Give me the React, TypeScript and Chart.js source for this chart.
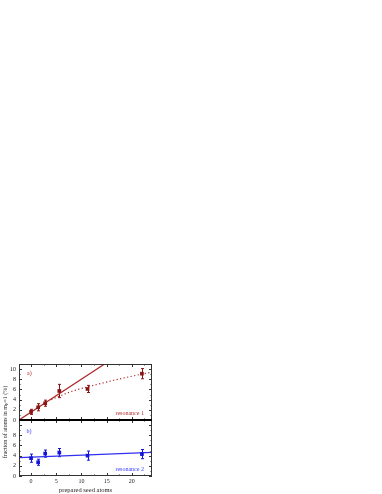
import React, { useEffect, useRef } from 'react';
import { Chart, registerables } from 'chart.js';

Chart.register(...registerables);

// ---- data ----
const seedAtoms = [0, 1.4, 2.8, 5.6, 11.2, 22];
const res1Values = [1.6, 2.5, 3.3, 5.7, 6.1, 9.1];
const res1Errors = [0.5, 0.7, 0.6, 1.3, 0.7, 1.0];
const res2Values = [3.5, 2.7, 4.4, 4.6, 4.0, 4.3];
const res2Errors = [0.8, 0.6, 0.7, 0.8, 0.9, 0.9];
const fit1LinearX = [-2.4, 14.6];
const fit1LinearY = [0, 11];
const fit1CurveX = [4, 8, 12, 16, 20, 24];
const fit1CurveY = [4.0, 5.6, 6.7, 7.7, 8.6, 9.4];
const fit2LinearX = [-2.4, 24];
const fit2LinearY = [3.6, 4.65];
const xTickLabels = [0, 5, 10, 15, 20];
const yTopTickLabels = [0, 2, 4, 6, 8, 10];
const yBottomTickLabels = [0, 2, 4, 6, 8];

const RED_PT = '#8a1414';
const RED_LN = '#ad2b2b';
const BLUE_PT = '#1414d8';
const BLUE_LN = '#2f2ff2';
const FONT = 'Liberation Serif';

const zip = (xs: number[], ys: number[]) => xs.map((x, i) => ({ x, y: ys[i] }));

const errorBarPlugin = {
  id: 'errorBars',
  beforeDatasetsDraw(chart: any) {
    const { ctx, scales } = chart;
    const groups = [
      { vals: res1Values, errs: res1Errors, y: scales.yTop, color: RED_PT },
      { vals: res2Values, errs: res2Errors, y: scales.yBot, color: BLUE_PT },
    ];
    ctx.save();
    ctx.lineWidth = 1;
    for (const g of groups) {
      ctx.strokeStyle = g.color;
      seedAtoms.forEach((sx, i) => {
        const px = Math.round(scales.x.getPixelForValue(sx)) + 0.5;
        const y1 = g.y.getPixelForValue(g.vals[i] - g.errs[i]);
        const y2 = g.y.getPixelForValue(g.vals[i] + g.errs[i]);
        ctx.beginPath();
        ctx.moveTo(px, y1);
        ctx.lineTo(px, y2);
        ctx.moveTo(px - 1.5, y1);
        ctx.lineTo(px + 1.5, y1);
        ctx.moveTo(px - 1.5, y2);
        ctx.lineTo(px + 1.5, y2);
        ctx.stroke();
      });
    }
    ctx.restore();
  },
};

const framePlugin = {
  id: 'frame',
  afterDraw(chart: any) {
    const { ctx, chartArea: a, scales } = chart;
    const x = scales.x;
    const yT = scales.yTop;
    const yB = scales.yBot;
    const sepY = Math.round(yB.getPixelForValue(11));
    ctx.save();
    ctx.strokeStyle = '#333';
    ctx.lineWidth = 1;
    ctx.strokeRect(a.left + 0.5, a.top + 0.5, a.width - 1, a.height - 1);
    // x ticks
    ctx.beginPath();
    for (const t of x.ticks) {
      const px = Math.round(x.getPixelForValue(t.value)) + 0.5;
      if (px < a.left + 1 || px > a.right - 1) continue;
      const len = t.value % 5 === 0 ? 3 : 1.5;
      ctx.moveTo(px, a.top);
      ctx.lineTo(px, a.top + len);
      ctx.moveTo(px, sepY - len);
      ctx.lineTo(px, sepY + len);
      ctx.moveTo(px, a.bottom);
      ctx.lineTo(px, a.bottom - len);
    }
    // y ticks
    for (const s of [yT, yB]) {
      for (const t of s.ticks) {
        const py = Math.round(s.getPixelForValue(t.value)) + 0.5;
        const len = t.value % 2 === 0 ? 3 : 1.5;
        ctx.moveTo(a.left, py);
        ctx.lineTo(a.left + len, py);
        ctx.moveTo(a.right, py);
        ctx.lineTo(a.right - len, py);
      }
    }
    ctx.stroke();
    // separator
    ctx.strokeStyle = '#000';
    ctx.lineWidth = 2;
    ctx.beginPath();
    ctx.moveTo(a.left, sepY);
    ctx.lineTo(a.right, sepY);
    ctx.stroke();

    // panel annotations
    ctx.textBaseline = 'middle';
    ctx.font = `6px "${FONT}"`;
    ctx.fillStyle = '#b03030';
    ctx.textAlign = 'left';
    ctx.fillText('a)', x.getPixelForValue(-0.8), yT.getPixelForValue(9.2));
    ctx.textAlign = 'right';
    ctx.fillText('resonance 1', x.getPixelForValue(22.4), yT.getPixelForValue(1.2));
    ctx.fillStyle = '#3a3aff';
    ctx.textAlign = 'left';
    ctx.fillText('b)', x.getPixelForValue(-0.9), yB.getPixelForValue(8.8));
    ctx.textAlign = 'right';
    ctx.fillText('resonance 2', x.getPixelForValue(22.4), yB.getPixelForValue(1.2));

    // y title with subscript
    const cx = 5;
    const cy = (a.top + a.bottom) / 2 + 2;
    ctx.translate(cx, cy);
    ctx.rotate(-Math.PI / 2);
    ctx.fillStyle = '#222';
    ctx.textAlign = 'left';
    const main = `6px "${FONT}"`;
    const sub = `4.5px "${FONT}"`;
    const p1 = 'fraction of atoms in m';
    const p2 = 'F';
    const p3 = '=1 (%)';
    ctx.font = main;
    const w1 = ctx.measureText(p1).width;
    const w3 = ctx.measureText(p3).width;
    ctx.font = sub;
    const w2 = ctx.measureText(p2).width;
    let sx = -(w1 + w2 + w3) / 2;
    ctx.font = main;
    ctx.fillText(p1, sx, 0);
    sx += w1;
    ctx.font = sub;
    ctx.fillText(p2, sx, 1.5);
    sx += w2;
    ctx.font = main;
    ctx.fillText(p3, sx, 0);
    ctx.restore();
  },
};

export default function App() {
  const ref = useRef<HTMLCanvasElement>(null);
  useEffect(() => {
    if (!ref.current) return;
    const tickFont = { family: FONT, size: 6 };
    const chart = new Chart(ref.current, {
      type: 'scatter',
      data: {
        datasets: [
          {
            label: 'resonance 1',
            data: zip(seedAtoms, res1Values),
            xAxisID: 'x',
            yAxisID: 'yTop',
            backgroundColor: RED_PT,
            borderColor: RED_PT,
            pointStyle: 'rect',
            pointRadius: 2.6,
            borderWidth: 0,
          },
          {
            label: 'linear fit 1',
            data: zip(fit1LinearX, fit1LinearY),
            xAxisID: 'x',
            yAxisID: 'yTop',
            showLine: true,
            pointRadius: 0,
            borderColor: RED_LN,
            borderWidth: 1.3,
          },
          {
            label: 'saturation fit 1',
            data: zip(fit1CurveX, fit1CurveY),
            xAxisID: 'x',
            yAxisID: 'yTop',
            showLine: true,
            pointRadius: 0,
            borderColor: RED_LN,
            borderWidth: 1.2,
            borderDash: [1.2, 2.4],
            cubicInterpolationMode: 'monotone',
          },
          {
            label: 'resonance 2',
            data: zip(seedAtoms, res2Values),
            xAxisID: 'x',
            yAxisID: 'yBot',
            backgroundColor: BLUE_PT,
            borderColor: BLUE_PT,
            pointStyle: 'rect',
            pointRadius: 2.6,
            borderWidth: 0,
          },
          {
            label: 'linear fit 2',
            data: zip(fit2LinearX, fit2LinearY),
            xAxisID: 'x',
            yAxisID: 'yBot',
            showLine: true,
            pointRadius: 0,
            borderColor: BLUE_LN,
            borderWidth: 1.3,
          },
        ],
      },
      options: {
        responsive: false,
        animation: false,
        devicePixelRatio: 1,
        layout: { padding: { left: 0, top: 364, right: 230, bottom: 0 } },
        plugins: { legend: { display: false }, tooltip: { enabled: false } },
        scales: {
          x: {
            type: 'linear',
            position: 'bottom',
            min: -2.4,
            max: 24,
            grid: { display: false, drawTicks: false },
            border: { display: false },
            ticks: {
              stepSize: 2.5,
              includeBounds: false,
              autoSkip: false,
              maxRotation: 0,
              padding: 2,
              font: tickFont,
              color: '#222',
              callback: (v: any) => (xTickLabels.includes(Number(v)) ? String(v) : ''),
            },
            title: {
              display: true,
              text: 'prepared seed atoms',
              font: { family: FONT, size: 6.5 },
              color: '#222',
              padding: { top: 0, bottom: 0 },
            },
            afterFit: (s: any) => {
              s.height = 18;
            },
          },
          yBot: {
            type: 'linear',
            position: 'left',
            stack: 'panels',
            stackWeight: 1,
            min: 0,
            max: 11,
            grid: { display: false, drawTicks: false },
            border: { display: false },
            ticks: {
              stepSize: 1,
              autoSkip: false,
              padding: 3,
              font: tickFont,
              color: '#222',
              callback: (v: any) => (yBottomTickLabels.includes(Number(v)) ? String(v) : ''),
            },
            afterFit: (s: any) => {
              s.width = 19;
            },
          },
          yTop: {
            type: 'linear',
            position: 'left',
            stack: 'panels',
            stackWeight: 1,
            min: 0,
            max: 11,
            grid: { display: false, drawTicks: false },
            border: { display: false },
            ticks: {
              stepSize: 1,
              autoSkip: false,
              padding: 3,
              font: tickFont,
              color: '#222',
              callback: (v: any) => (yTopTickLabels.includes(Number(v)) ? String(v) : ''),
            },
            afterFit: (s: any) => {
              s.width = 19;
            },
          },
        },
      } as any,
      plugins: [errorBarPlugin, framePlugin],
    });
    return () => chart.destroy();
  }, []);
  return (
    <div style={{ position: 'fixed', left: 0, top: 0, width: 382, height: 494, background: '#fff' }}>
      <canvas ref={ref} width={382} height={494} style={{ display: 'block', width: 382, height: 494 }} />
    </div>
  );
}
